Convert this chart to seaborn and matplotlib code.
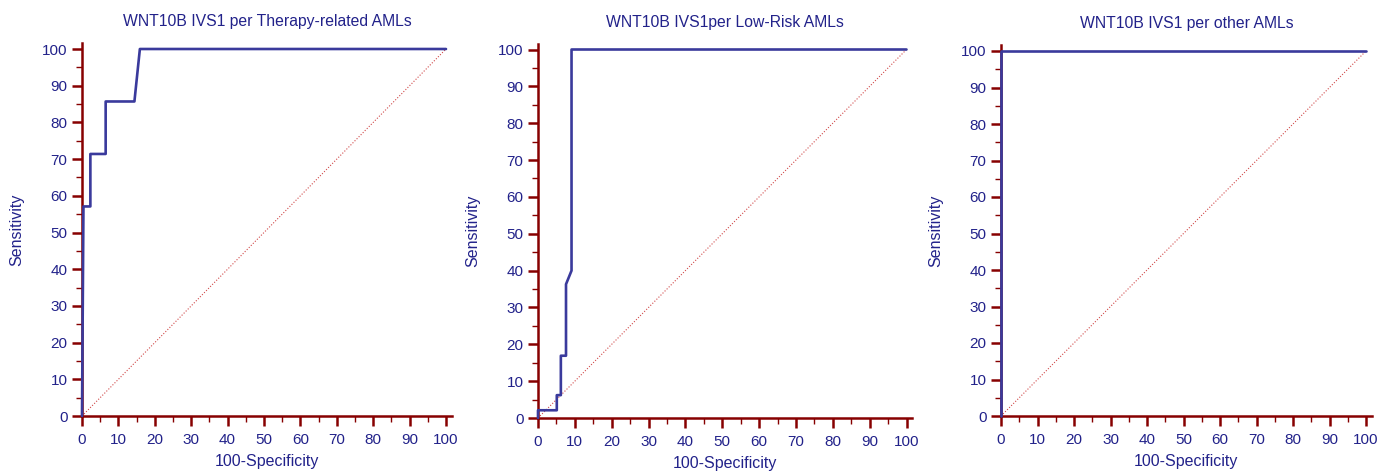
import matplotlib
matplotlib.use("Agg")
import matplotlib.pyplot as plt
import seaborn as sns
import pandas as pd
from matplotlib.ticker import MultipleLocator

sns.set_style("white")
plt.rcParams['font.family'] = ['Liberation Sans', 'DejaVu Sans']

titles = ["WNT10B IVS1 per Therapy-related AMLs",
          "WNT10B IVS1per Low-Risk AMLs",
          "WNT10B IVS1 per other AMLs"]

fpr_therapy = [0, 0.4, 2.3, 2.3, 6.5, 6.5, 14.4, 15.9, 100]
tpr_therapy = [0, 57.1, 57.1, 71.4, 71.4, 85.7, 85.7, 100, 100]

fpr_lowrisk = [0, 0, 5.1, 5.1, 6.2, 6.2, 7.6, 7.6, 9.1, 9.1, 100]
tpr_lowrisk = [0, 2.1, 2.1, 6.2, 6.2, 16.9, 16.9, 36.3, 40.0, 100, 100]

fpr_other = [0, 0, 100]
tpr_other = [0, 100, 100]

diag = [0, 100]

series = [(fpr_therapy, tpr_therapy), (fpr_lowrisk, tpr_lowrisk), (fpr_other, tpr_other)]

W, H = 1391, 472
fig = plt.figure(figsize=(W / 100, H / 100), dpi=100)

# pixel geometry: (x at 0, x at 100, y at 0, y at 100)
geoms = [(82, 446, 416, 49), (538, 906.5, 418, 49.5), (1001, 1366, 416, 51)]

NAVY = "#22228a"
LINE = "#3a3a9c"
AXRED = "#870000"
EXT = 101.6

for i, ((x0, x1, y0, y1), (fx, ty), title) in enumerate(zip(geoms, series, titles)):
    sx = (x1 - x0) / 100.0
    sy = (y0 - y1) / 100.0
    ax = fig.add_axes([x0 / W, (H - y0) / H, sx * EXT / W, sy * EXT / H])
    ax.set_xlim(0, EXT)
    ax.set_ylim(0, EXT)

    sns.lineplot(x=diag, y=diag, ax=ax, color="#d04848", lw=0.8,
                 linestyle=(0, (1, 1.6)), sort=False, estimator=None)
    df = pd.DataFrame({"fpr": fx, "tpr": ty})
    sns.lineplot(data=df, x="fpr", y="tpr", ax=ax, color=LINE, lw=1.9,
                 sort=False, estimator=None, clip_on=False, zorder=5)

    for s in ["top", "right"]:
        ax.spines[s].set_visible(False)
    for s in ["left", "bottom"]:
        ax.spines[s].set_color(AXRED)
        ax.spines[s].set_linewidth(1.8)

    ax.xaxis.set_major_locator(MultipleLocator(10))
    ax.yaxis.set_major_locator(MultipleLocator(10))
    ax.xaxis.set_minor_locator(MultipleLocator(5))
    ax.yaxis.set_minor_locator(MultipleLocator(5))
    ax.tick_params(which="major", direction="out", length=7.5, width=1.8,
                   color=AXRED, labelcolor=NAVY, labelsize=11, pad=3,
                   bottom=True, left=True)
    ax.tick_params(axis="x", which="major", pad=5)
    ax.tick_params(which="minor", direction="out", length=4, width=1.0,
                   color=AXRED, bottom=True, left=True)
    ax.set_xticks(range(0, 101, 10))
    ax.set_yticks(range(0, 101, 10))

    ax.set_xlabel("100-Specificity", color=NAVY, fontsize=11.5, labelpad=5)
    ax.set_ylabel("Sensitivity", color=NAVY, fontsize=11.5, labelpad=13)
    ax.set_title(title, color=NAVY, fontsize=11.3, pad=12)
    ax.set_facecolor("white")

fig.savefig("out.png", dpi=100)
